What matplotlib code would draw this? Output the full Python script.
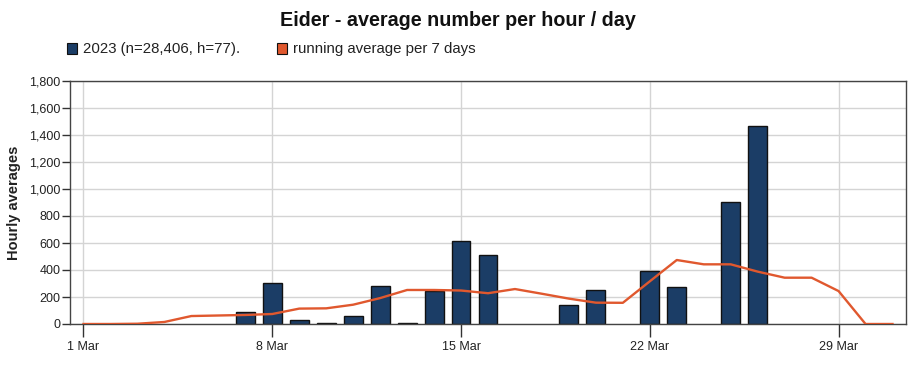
import matplotlib
matplotlib.use("Agg")
import matplotlib.pyplot as plt
from matplotlib.patches import Rectangle
from matplotlib.ticker import FuncFormatter, FixedLocator

plt.rcParams['font.family'] = ['Liberation Sans', 'DejaVu Sans']

days = list(range(1, 32))  # 1..31 March
bar_values = [0, 0, 0, 0, 0, 0, 92, 302, 33, 6, 60, 282, 4, 247, 616, 514,
              0, 0, 141, 253, 0, 393, 274, 0, 904, 1469, 0, 0, 0, 0, 0]
running_avg = [0, 0, 2, 15, 59, 63, 67, 74, 114, 116, 143, 192, 252, 252, 248, 228,
               259, 224, 188, 158, 157, 316, 474, 442, 442, 388, 343, 343, 244, 0, 0]
xtick_days = [1, 8, 15, 22, 29]
xtick_labels = ['1 Mar', '8 Mar', '15 Mar', '22 Mar', '29 Mar']
yticks = [0, 200, 400, 600, 800, 1000, 1200, 1400, 1600, 1800]

title = 'Eider - average number per hour / day'
bar_label = '2023 (n=28,406, h=77).'
line_label = 'running average per 7 days'
ylabel = 'Hourly averages'

bar_color = '#1b3d66'
line_color = '#e0582e'

fig = plt.figure(figsize=(9.15, 3.65), dpi=100)
ax = fig.add_axes([70/915, 1-324/365, (906-70)/915, (324-81)/365])

bx = [d for d, v in zip(days, bar_values) if v > 0]
bv = [v for v in bar_values if v > 0]
ax.bar(bx, bv, width=0.7, color=bar_color, edgecolor='#111111', linewidth=1.0, zorder=2)
ax.plot(days, running_avg, color=line_color, linewidth=1.7, zorder=3, solid_joinstyle='round')

ax.set_xlim(0.5, 31.5)
ax.set_ylim(0, 1800)
ax.xaxis.set_major_locator(FixedLocator(xtick_days))
ax.set_xticklabels(xtick_labels)
ax.yaxis.set_major_locator(FixedLocator(yticks))
ax.yaxis.set_major_formatter(FuncFormatter(lambda v, p: f'{int(v):,}'))
ax.grid(True, color='#d4d4d4', linewidth=1.0, zorder=0)
ax.set_axisbelow(True)
ax.tick_params(axis='x', length=9, width=1, color='#333333', labelsize=9, labelcolor='#222222', pad=3)
ax.tick_params(axis='y', length=6, width=1, color='#333333', labelsize=9, labelcolor='#222222', pad=1)
for s in ['left', 'bottom', 'top', 'right']:
    ax.spines[s].set_color('#444444')
    ax.spines[s].set_linewidth(1.0)

ax.set_ylabel(ylabel, fontsize=10.5, fontweight='bold', color='#222222')
ax.yaxis.set_label_coords(-0.059, 0.5)

fig.text(458/915, 1-21/365, title, ha='center', va='center', fontsize=14.2, fontweight='bold', color='#111111')

# legend
fig.patches.append(Rectangle((67/915, 1-54/365), 10/915, 11/365, transform=fig.transFigure,
                             facecolor=bar_color, edgecolor='#111111', linewidth=0.8))
fig.text(83/915, 1-49/365, bar_label, ha='left', va='center', fontsize=10.8, color='#222222')
fig.patches.append(Rectangle((277/915, 1-54/365), 10/915, 11/365, transform=fig.transFigure,
                             facecolor=line_color, edgecolor='#111111', linewidth=0.8))
fig.text(293/915, 1-49/365, line_label, ha='left', va='center', fontsize=10.8, color='#222222')

fig.savefig('out.png', dpi=100)
